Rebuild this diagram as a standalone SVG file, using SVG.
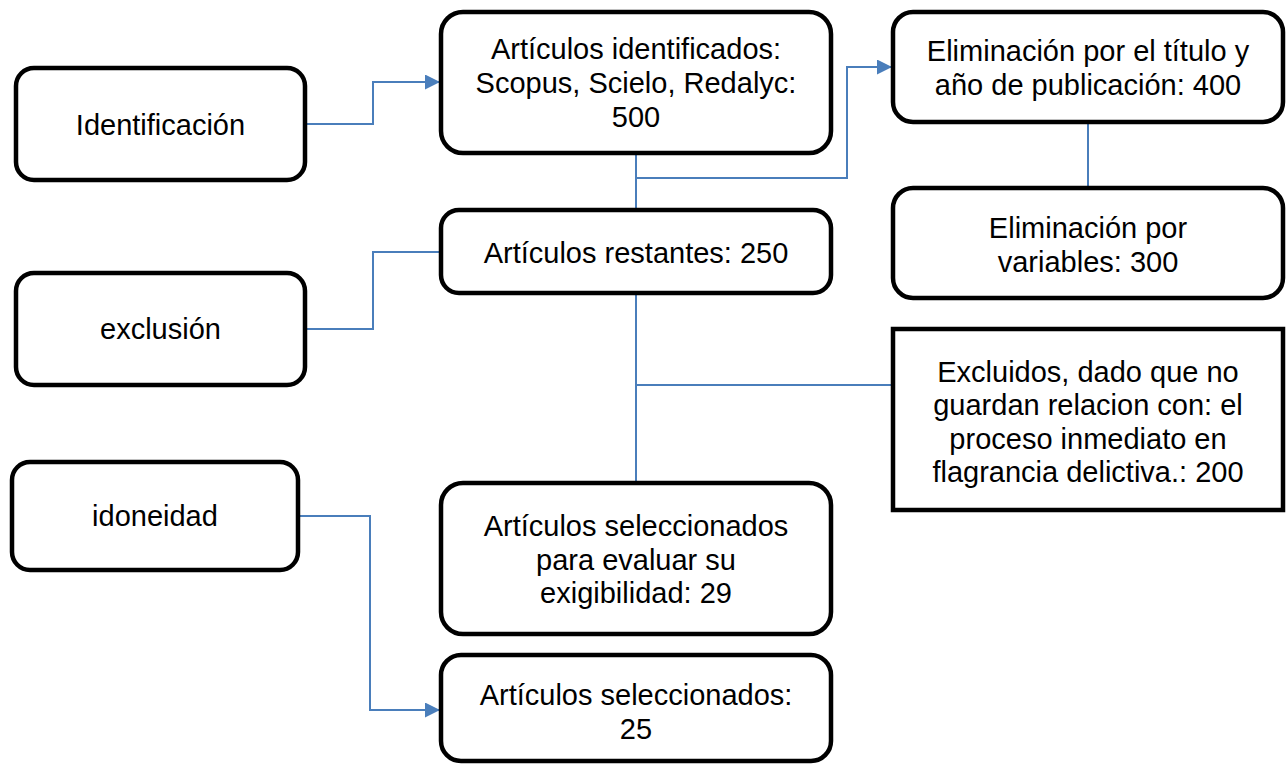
<svg xmlns="http://www.w3.org/2000/svg" width="1287" height="764" viewBox="0 0 1287 764">
<style>
.box{fill:#fff;stroke:#000;stroke-width:4.5}
.t{font-family:"Liberation Sans",Arial,sans-serif;font-size:29px;fill:#000;text-anchor:middle}
.c{fill:none;stroke:#4a7ebb;stroke-width:2}
</style>
<defs>
<marker id="arr" markerWidth="10" markerHeight="10" refX="10" refY="5" orient="auto" markerUnits="userSpaceOnUse" viewBox="0 0 10 10">
<path d="M0,0 L10,5 L0,10 z" fill="#4a7ebb"/>
</marker>
<marker id="arrL" markerWidth="15" markerHeight="15" refX="15" refY="7.5" orient="auto" markerUnits="userSpaceOnUse" viewBox="0 0 15 15">
<path d="M0,0 L15,7.5 L0,15 z" fill="#4a7ebb"/>
</marker>
</defs>
<g id="connectors">
<path class="c" d="M305,124 H373 V82 H440" marker-end="url(#arrL)"/>
<path class="c" d="M636,153 V210"/>
<path class="c" d="M636,178 H847 V67 H892" marker-end="url(#arrL)"/>
<path class="c" d="M1088,122 V188"/>
<path class="c" d="M305,329 H373 V252 H441"/>
<path class="c" d="M636,293 V483"/>
<path class="c" d="M636,385 H894"/>
<path class="c" d="M298,516 H370 V710 H440" marker-end="url(#arrL)"/>
</g>
<g id="n-identificacion">
<rect class="box" x="16" y="68" width="289" height="112" rx="18"/>
<text class="t" x="160.5" y="135">Identificación</text>
</g>
<g id="n-identificados">
<rect class="box" x="441" y="12" width="390" height="141" rx="22"/>
<text class="t" x="636" y="59">Artículos identificados:</text>
<text class="t" x="636" y="93">Scopus, Scielo, Redalyc:</text>
<text class="t" x="636" y="127">500</text>
</g>
<g id="n-titulo">
<rect class="box" x="893" y="12" width="390" height="110" rx="20"/>
<text class="t" x="1088" y="61">Eliminación por el título y</text>
<text class="t" x="1088" y="95">año de publicación: 400</text>
</g>
<g id="n-variables">
<rect class="box" x="893" y="188" width="390" height="110" rx="20"/>
<text class="t" x="1088" y="238">Eliminación por</text>
<text class="t" x="1088" y="272">variables: 300</text>
</g>
<g id="n-restantes">
<rect class="box" x="441" y="210" width="390" height="83" rx="18"/>
<text class="t" x="636" y="263">Artículos restantes: 250</text>
</g>
<g id="n-exclusion">
<rect class="box" x="16" y="273" width="289" height="112" rx="18"/>
<text class="t" x="160.5" y="339">exclusión</text>
</g>
<g id="n-excluidos">
<rect class="box" x="893" y="329" width="390" height="181"/>
<text class="t" x="1088" y="382">Excluidos, dado que no</text>
<text class="t" x="1088" y="415">guardan relacion con: el</text>
<text class="t" x="1088" y="449">proceso inmediato en</text>
<text class="t" x="1088" y="482">flagrancia delictiva.: 200</text>
</g>
<g id="n-idoneidad">
<rect class="box" x="12" y="462" width="286" height="108" rx="18"/>
<text class="t" x="155" y="526">idoneidad</text>
</g>
<g id="n-evaluar">
<rect class="box" x="441" y="483" width="390" height="151" rx="22"/>
<text class="t" x="636" y="536">Artículos seleccionados</text>
<text class="t" x="636" y="570">para evaluar su</text>
<text class="t" x="636" y="603">exigibilidad: 29</text>
</g>
<g id="n-seleccionados">
<rect class="box" x="441" y="655" width="390" height="106" rx="20"/>
<text class="t" x="636" y="705">Artículos seleccionados:</text>
<text class="t" x="636" y="739">25</text>
</g>
</svg>
